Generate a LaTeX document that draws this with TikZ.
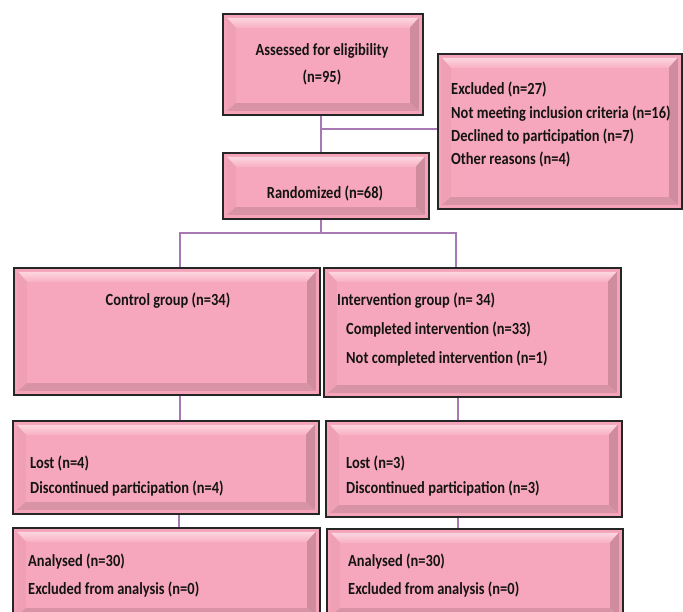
\documentclass[tikz,border=0pt]{standalone}
\usepackage{fontspec}
\setmainfont{Carlito}[FakeStretch=0.85]
\usetikzlibrary{calc}
\definecolor{pframe}{HTML}{F4A3B8}
\definecolor{pface}{HTML}{F7A7BD}
\definecolor{ptop}{HTML}{FCD6E0}
\definecolor{pleft}{HTML}{EFA0B4}
\definecolor{pright}{HTML}{CF8C9F}
\definecolor{pbottom}{HTML}{D894A6}
\definecolor{linkc}{HTML}{A878B2}
\tikzset{
  bevelbox/.style={rectangle, draw=black!85, line width=1.6pt, fill=pframe,
    inner sep=0pt, anchor=north west,
    path picture={
      \path (path picture bounding box.south west) coordinate (pSW)
            (path picture bounding box.north east) coordinate (pNE);
      \coordinate (bA) at ($(pSW|-pNE)+(4pt,-4pt)$);
      \coordinate (bB) at ($(pNE)+(-4pt,-4pt)$);
      \coordinate (bC) at ($(pNE|-pSW)+(-4pt,4pt)$);
      \coordinate (bD) at ($(pSW)+(4pt,4pt)$);
      \coordinate (iA) at ($(bA)+(9pt,-10pt)$);
      \coordinate (iB) at ($(bB)+(-9pt,-10pt)$);
      \coordinate (iC) at ($(bC)+(-9pt,8pt)$);
      \coordinate (iD) at ($(bD)+(9pt,8pt)$);
      \shade[top color=ptop, bottom color=pface!80!ptop] (bA) -- (bB) -- (iB) -- (iA) -- cycle;
      \fill[pright] (bB) -- (bC) -- (iC) -- (iB) -- cycle;
      \fill[pbottom] (bC) -- (bD) -- (iD) -- (iC) -- cycle;
      \fill[pleft] (bD) -- (bA) -- (iA) -- (iD) -- cycle;
      \fill[pface] (iA) -- (iB) -- (iC) -- (iD) -- cycle;
    }},
  txt/.style={font=\bfseries\fontsize{17}{20}\selectfont, inner sep=0pt, text=black!92},
  link/.style={draw=linkc, line width=1.9pt},
}
\begin{document}
\begin{tikzpicture}[x=1pt,y=-1pt]
\useasboundingbox (0,0) rectangle (683,612);
\clip (0,0) rectangle (683,612);
\fill[white] (0,0) rectangle (683,612);

% connector junctions
\coordinate (j1) at (321,129);
\coordinate (j2) at (321,233);
\coordinate (cL) at (180,233);
\coordinate (cR) at (456,233);
\coordinate (dL) at (179,0);
\coordinate (dR) at (458,0);

% boxes
\node[bevelbox, minimum width=200pt, minimum height=101pt] (assessed) at (222,13) {};
\node[bevelbox, minimum width=244pt, minimum height=155pt] (excluded) at (437,53) {};
\node[bevelbox, minimum width=206pt, minimum height=66pt] (randomized) at (222,152) {};
\node[bevelbox, minimum width=306pt, minimum height=127pt] (control) at (13,267) {};
\node[bevelbox, minimum width=297pt, minimum height=129pt] (interv) at (323,267) {};
\node[bevelbox, minimum width=306pt, minimum height=93pt] (lostL) at (12,420) {};
\node[bevelbox, minimum width=296pt, minimum height=96pt] (lostR) at (325,420) {};
\node[bevelbox, minimum width=307pt, minimum height=92pt] (anaL) at (12,527) {};
\node[bevelbox, minimum width=296pt, minimum height=91pt] (anaR) at (326,528) {};

% links
\draw[link] (j1 |- assessed.south) -- (j1 |- randomized.north);
\draw[link] (j1) -- (j1 -| excluded.west);
\draw[link] (j2 |- randomized.south) -- (j2);
\draw[link] (cL |- control.north) -- (cL) -- (cR) -- (cR |- interv.north);
\draw[link] (cL |- control.south) -- (cL |- lostL.north);
\draw[link] (dR |- interv.south) -- (dR |- lostR.north);
\draw[link] (dL |- lostL.south) -- (dL |- anaL.north);
\draw[link] (dR |- lostR.south) -- (dR |- anaR.north);

% texts
\node[txt, anchor=base] (ta1) at (322,56) {Assessed for eligibility};
\node[txt, anchor=base] (ta2) at (322,83) {(n=95)};
\node[txt, anchor=base west] (te1) at (451,95) {Excluded (n=27)};
\node[txt, anchor=base west] (te2) at (451,119) {Not meeting inclusion criteria (n=16)};
\node[txt, anchor=base west] (te3) at (451,142) {Declined to participation (n=7)};
\node[txt, anchor=base west] (te4) at (451,165) {Other reasons (n=4)};
\node[txt, anchor=base] (tr) at (325,199) {Randomized (n=68)};
\node[txt, anchor=base] (tc) at (168,306) {Control group (n=34)};
\node[txt, anchor=base west] (ti1) at (337,306) {Intervention group (n= 34)};
\node[txt, anchor=base west] (ti2) at (346,335) {Completed intervention (n=33)};
\node[txt, anchor=base west] (ti3) at (346,363) {Not completed intervention (n=1)};
\node[txt, anchor=base west] (tl1) at (30,468) {Lost (n=4)};
\node[txt, anchor=base west] (tl2) at (30,493) {Discontinued participation (n=4)};
\node[txt, anchor=base west] (tm1) at (346,468) {Lost (n=3)};
\node[txt, anchor=base west] (tm2) at (346,493) {Discontinued participation (n=3)};
\node[txt, anchor=base west] (tn1) at (28,566) {Analysed (n=30)};
\node[txt, anchor=base west] (tn2) at (28,594) {Excluded from analysis (n=0)};
\node[txt, anchor=base west] (to1) at (348,566) {Analysed (n=30)};
\node[txt, anchor=base west] (to2) at (348,594) {Excluded from analysis (n=0)};
\end{tikzpicture}
\end{document}
